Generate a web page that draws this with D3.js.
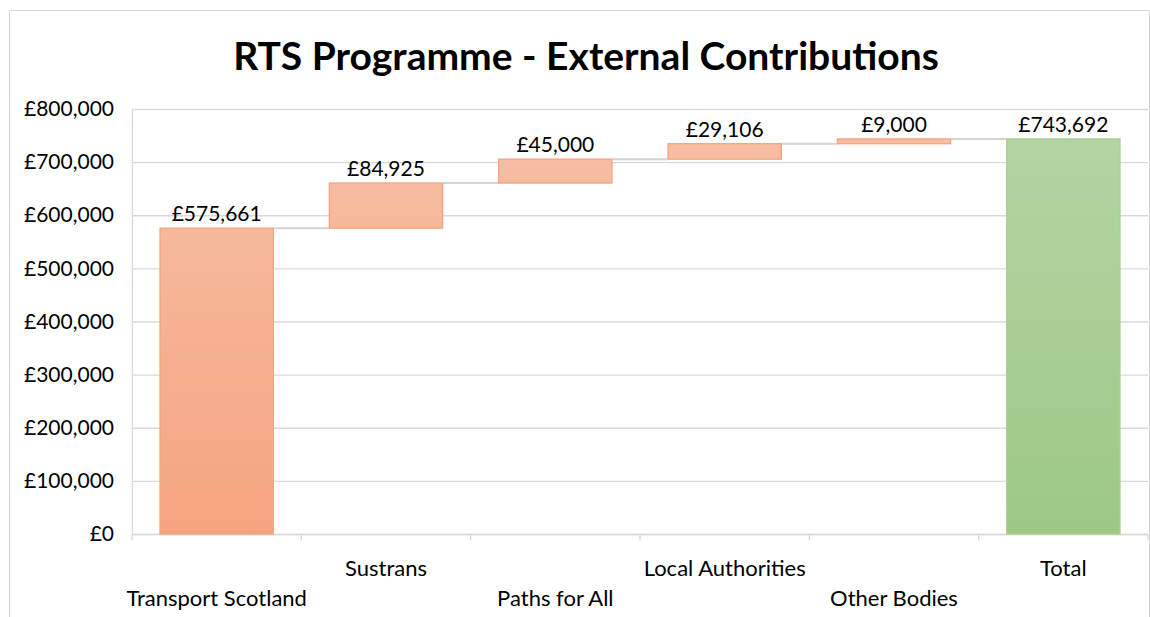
<!DOCTYPE html>
<html>
<head>
<meta charset="utf-8">
<script src="https://cdn.jsdelivr.net/npm/d3@7"></script>
<style>
  html, body { margin: 0; padding: 0; background: #fff; }
  svg { display: block; font-family: Lato, "Open Sans", sans-serif; }
</style>
</head>
<body>
<svg id="chart" width="1150" height="617"></svg>
<script>
const title = "RTS Programme - External Contributions";
const categories = ["Transport Scotland", "Sustrans", "Paths for All", "Local Authorities", "Other Bodies", "Total"];
const values = [575661, 84925, 45000, 29106, 9000, 743692];
const isTotal = [false, false, false, false, false, true];
const yTicks = [0, 100000, 200000, 300000, 400000, 500000, 600000, 700000, 800000];

const svg = d3.select("#chart");
const W = 1150, H = 617;
const plot = { left: 132, right: 1148, top: 109, bottom: 534 };

// compute waterfall
let run = 0;
const bars = categories.map((c, i) => {
  let start, end;
  if (isTotal[i]) { start = 0; end = values[i]; run = values[i]; }
  else { start = run; end = run + values[i]; run = end; }
  return { cat: c, value: values[i], start, end, total: isTotal[i], i };
});

const x = d3.scaleBand().domain(categories).range([plot.left, plot.right]).paddingInner(0.325).paddingOuter(0.1625);
const xb = d3.scaleBand().domain(categories).range([plot.left, plot.right]);
const y = d3.scaleLinear().domain([0, 800000]).range([plot.bottom, plot.top]);

const defs = svg.append("defs");
const g1 = defs.append("linearGradient").attr("id", "gOrange").attr("gradientUnits", "userSpaceOnUse")
  .attr("x1", 0).attr("y1", plot.top).attr("x2", 0).attr("y2", plot.bottom);
g1.append("stop").attr("offset", "0%").attr("stop-color", "#f6c0a6");
g1.append("stop").attr("offset", "100%").attr("stop-color", "#f5a47f");
const g2 = defs.append("linearGradient").attr("id", "gGreen").attr("gradientUnits", "userSpaceOnUse")
  .attr("x1", 0).attr("y1", y(743692)).attr("x2", 0).attr("y2", plot.bottom);
g2.append("stop").attr("offset", "0%").attr("stop-color", "#b4d4a4");
g2.append("stop").attr("offset", "100%").attr("stop-color", "#9cc884");

// outer border
svg.append("rect").attr("x", 9.5).attr("y", 10.5).attr("width", W - 10).attr("height", H - 10)
  .attr("fill", "none").attr("stroke", "#d9d9d9").attr("stroke-width", 1);

// title
svg.append("text").attr("x", 586).attr("y", 70).attr("text-anchor", "middle")
  .attr("font-size", 39).attr("font-weight", "bold").attr("fill", "#000").text(title);

// gridlines
svg.append("g").selectAll("line").data(yTicks).join("line")
  .attr("x1", plot.left).attr("x2", plot.right)
  .attr("y1", d => y(d) + 0.5).attr("y2", d => y(d) + 0.5)
  .attr("stroke", "#d9d9d9").attr("stroke-width", 1.3);

// y axis
const yAxis = d3.axisLeft(y).tickValues(yTicks).tickSize(0).tickPadding(18)
  .tickFormat(d => "£" + d3.format(",")(d));
const ya = svg.append("g").attr("transform", `translate(${plot.left},0)`).call(yAxis);
ya.select(".domain").attr("stroke", "#d9d9d9").attr("stroke-width", 1.3);
ya.selectAll("text").attr("font-size", 21).attr("fill", "#000").attr("font-family", "Lato, sans-serif");

// x axis baseline + ticks
const xa = svg.append("g").attr("transform", `translate(0,${plot.bottom + 0.5})`);
xa.append("line").attr("x1", plot.left).attr("x2", plot.right).attr("stroke", "#d9d9d9").attr("stroke-width", 1.3);
const boundaries = categories.map(c => xb(c)).concat([plot.right]);
xa.selectAll("line.tk").data(boundaries).join("line").attr("class", "tk")
  .attr("x1", d => d).attr("x2", d => d).attr("y1", 0).attr("y2", 6)
  .attr("stroke", "#d9d9d9").attr("stroke-width", 1.3);

// category labels (staggered)
svg.append("g").selectAll("text").data(bars).join("text")
  .attr("x", d => xb(d.cat) + xb.bandwidth() / 2)
  .attr("y", d => d.i % 2 === 0 ? 606 : 576)
  .attr("text-anchor", "middle").attr("font-size", 22).attr("fill", "#000")
  .text(d => d.cat);

// connectors
svg.append("g").selectAll("line").data(bars.slice(0, -1)).join("line")
  .attr("x1", d => x(d.cat) + x.bandwidth())
  .attr("x2", d => x(categories[d.i + 1]))
  .attr("y1", d => y(d.end)).attr("y2", d => y(d.end))
  .attr("stroke", "#d4d4d4").attr("stroke-width", 2);

// bars
svg.append("g").selectAll("rect").data(bars).join("rect")
  .attr("x", d => x(d.cat) + 0.5)
  .attr("width", x.bandwidth() - 1)
  .attr("y", d => y(d.end))
  .attr("height", d => Math.max(1, y(d.start) - y(d.end)))
  .attr("fill", d => d.total ? "url(#gGreen)" : "url(#gOrange)")
  .attr("stroke", d => d.total ? "#a9d18e" : "#f4a47e")
  .attr("stroke-width", 1.3);

// value labels
svg.append("g").selectAll("text").data(bars).join("text")
  .attr("x", d => x(d.cat) + x.bandwidth() / 2)
  .attr("y", d => y(d.end) - 7)
  .attr("text-anchor", "middle").attr("font-size", 21).attr("fill", "#000")
  .text(d => "£" + d3.format(",")(d.value));
</script>
</body>
</html>
